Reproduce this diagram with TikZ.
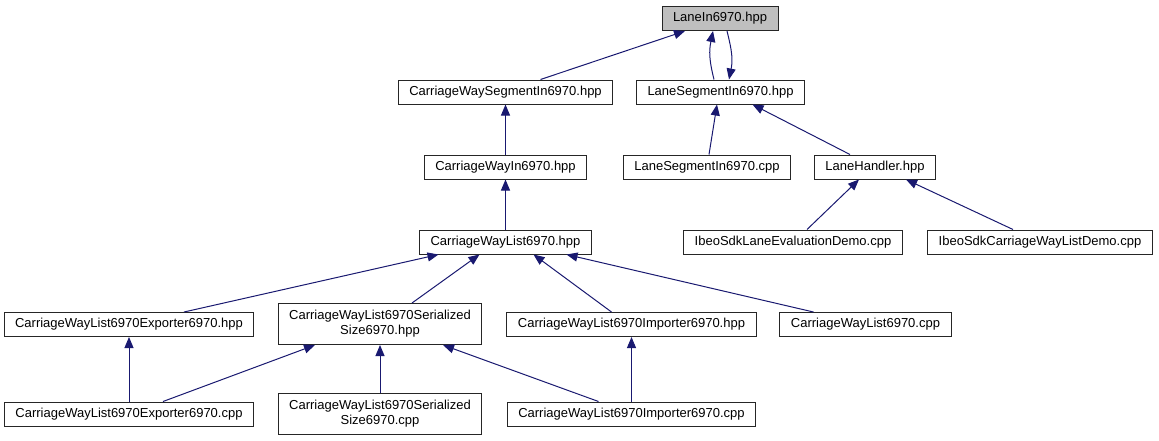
\documentclass[tikz,border=0pt]{standalone}
\usepackage{fontspec}
\setmainfont{Liberation Sans}
\usetikzlibrary{arrows.meta}

\definecolor{edgeblue}{HTML}{191970}
\definecolor{rootgray}{HTML}{BFBFBF}

\begin{document}
\begin{tikzpicture}[x=1pt, y=-1pt,
            file/.style={rectangle, draw=black!85, fill=white, line width=1pt, font=\fontsize{13}{15}\selectfont, inner xsep=11pt, inner ysep=3pt, minimum height=24pt, align=center},
            root/.style={file, fill=rootgray},
            twoline/.style={minimum height=41pt},
            dep/.style={-{Triangle[length=11pt,width=9pt]}, draw=edgeblue, line width=1pt}
        ]
        \useasboundingbox (0,0) rectangle (1159,440);

        % Headers at the top
        \node[root] (lanein) at (720,18.5) {LaneIn6970.hpp};
        \node[file] (cwseg) at (505.5,92) {CarriageWaySegmentIn6970.hpp};
        \node[file] (laneseghpp) at (720.5,92) {LaneSegmentIn6970.hpp};
        \node[file] (cwin) at (505.5,167) {CarriageWayIn6970.hpp};
        \node[file] (lanesegcpp) at (707,167) {LaneSegmentIn6970.cpp};
        \node[file] (lanehandler) at (875,167) {LaneHandler.hpp};
        \node[file] (ibeolane) at (793,242) {IbeoSdkLaneEvaluationDemo.cpp};
        \node[file] (ibeocw) at (1040,242) {IbeoSdkCarriageWayListDemo.cpp};
        \node[file] (cwlhpp) at (505.5,242) {CarriageWayList6970.hpp};

        % Bottom two rows
        \node[file] (exphpp) at (129,324.5) {CarriageWayList6970Exporter6970.hpp};
        \node[file, twoline] (serhpp) at (380,324) {CarriageWayList6970Serialized\\Size6970.hpp};
        \node[file] (imphpp) at (631.5,324.5) {CarriageWayList6970Importer6970.hpp};
        \node[file] (cwlcpp) at (865.5,324.5) {CarriageWayList6970.cpp};
        \node[file] (expcpp) at (129,414) {CarriageWayList6970Exporter6970.cpp};
        \node[file, twoline] (sercpp) at (380,413.5) {CarriageWayList6970Serialized\\Size6970.cpp};
        \node[file] (impcpp) at (631.5,414) {CarriageWayList6970Importer6970.cpp};

        % Includes, arrow points at the included file
        \draw[dep] ([xshift=35pt]cwseg.north) -- ([xshift=-35pt]lanein.south);
        \draw[dep] ([xshift=-6.5pt]laneseghpp.north) .. controls +(-5,-20) and +(-4,20) .. ([xshift=-7pt]lanein.south);
        \draw[dep] ([xshift=7pt]lanein.south) .. controls +(5,20) and +(4,-20) .. ([xshift=8.5pt]laneseghpp.north);
        \draw[dep] ([xshift=2pt]lanesegcpp.north) -- ([xshift=-3.5pt]laneseghpp.south);
        \draw[dep] ([xshift=-25pt]lanehandler.north) -- ([xshift=32pt]laneseghpp.south);
        \draw[dep] ([xshift=14pt]ibeolane.north) -- ([xshift=-16pt]lanehandler.south);
        \draw[dep] ([xshift=-27pt]ibeocw.north) -- ([xshift=31pt]lanehandler.south);
        \draw[dep] (cwin.north) -- (cwseg.south);
        \draw[dep] (cwlhpp.north) -- (cwin.south);
        \draw[dep] ([xshift=55pt]exphpp.north) -- ([xshift=-67pt]cwlhpp.south);
        \draw[dep] ([xshift=32pt]serhpp.north) -- ([xshift=-26pt]cwlhpp.south);
        \draw[dep] ([xshift=-20pt]imphpp.north) -- ([xshift=28pt]cwlhpp.south);
        \draw[dep] ([xshift=-52pt]cwlcpp.north) -- ([xshift=61pt]cwlhpp.south);
        \draw[dep] (expcpp.north) -- (exphpp.south);
        \draw[dep] ([xshift=34pt]expcpp.north) -- ([xshift=-65pt]serhpp.south);
        \draw[dep] (sercpp.north) -- (serhpp.south);
        \draw[dep] ([xshift=-33pt]impcpp.north) -- ([xshift=63pt]serhpp.south);
        \draw[dep] (impcpp.north) -- (imphpp.south);
        \end{tikzpicture}
\end{document}
